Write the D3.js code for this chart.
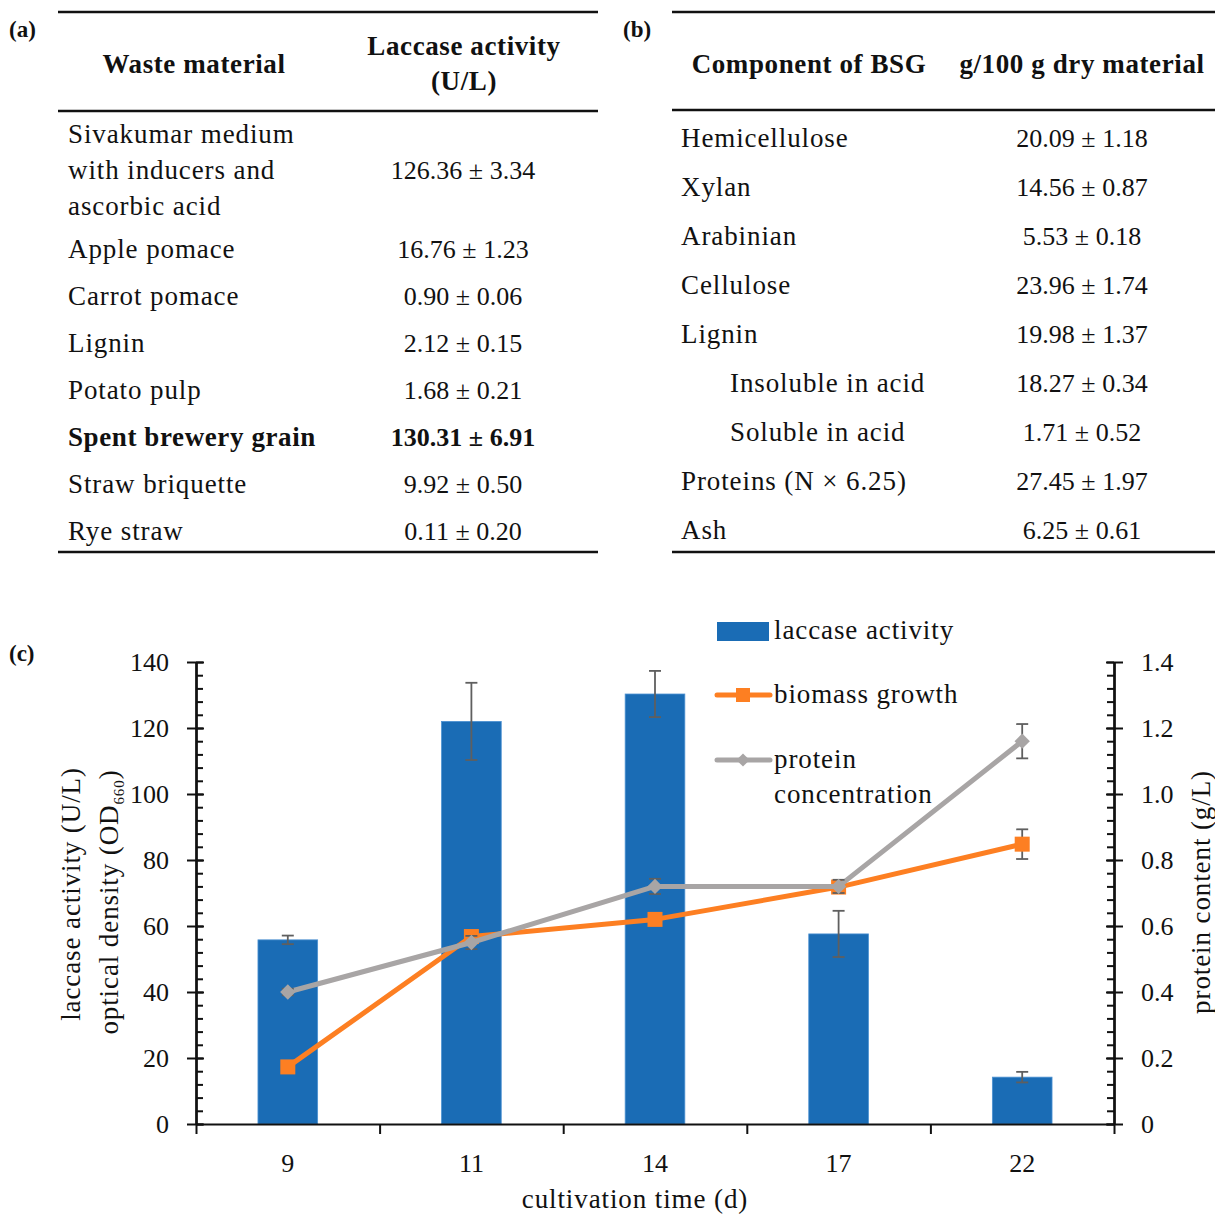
<!DOCTYPE html>
<html>
<head>
<meta charset="utf-8">
<script src="https://cdn.jsdelivr.net/npm/d3@7"></script>
<style>
  body { margin: 0; background: #fff; }
  svg text { font-family: "Liberation Serif", "Times New Roman", serif; fill: #111; }
  svg text.w { font-size: 27px; letter-spacing: 0.9px; }
  svg text.w[font-weight="bold"] { letter-spacing: 0.6px; }
  svg text.n { font-size: 26px; }
</style>
</head>
<body>
<svg id="fig" width="1215" height="1214"></svg>
<script>
// ---- table (a) ----
const wasteMaterials = [
    ['Sivakumar medium', 'with inducers and', 'ascorbic acid'],
    ['Apple pomace'], ['Carrot pomace'], ['Lignin'], ['Potato pulp'],
    ['Spent brewery grain'], ['Straw briquette'], ['Rye straw']
];
const laccaseTable = ['126.36 ± 3.34', '16.76 ± 1.23', '0.90 ± 0.06', '2.12 ± 0.15',
    '1.68 ± 0.21', '130.31 ± 6.91', '9.92 ± 0.50', '0.11 ± 0.20'];
const boldRow = 'Spent brewery grain';

// ---- table (b) ----
const bsgComponents = ['Hemicellulose', 'Xylan', 'Arabinian', 'Cellulose', 'Lignin',
    'Insoluble in acid', 'Soluble in acid', 'Proteins (N × 6.25)', 'Ash'];
const bsgSub = [false, false, false, false, false, true, true, false, false];
const bsgValues = ['20.09 ± 1.18', '14.56 ± 0.87', '5.53 ± 0.18', '23.96 ± 1.74', '19.98 ± 1.37',
    '18.27 ± 0.34', '1.71 ± 0.52', '27.45 ± 1.97', '6.25 ± 0.61'];

// ---- chart (c) ----
const days = ['9', '11', '14', '17', '22'];
const laccase = [55.8, 122, 130.3, 57.6, 14.2];
const laccaseErr = [1.3, 11.7, 7, 7, 1.6];
const biomass = [17.3, 56.8, 62, 71.8, 84.8];
const biomassErr = [0.8, 1, 0.8, 1, 4.5];
const protein = [0.40, 0.55, 0.72, 0.72, 1.16];
const proteinErr = [0.01, 0.02, 0.023, 0.02, 0.052];
const leftTicks = [0, 20, 40, 60, 80, 100, 120, 140];
const rightTicks = [0, 0.2, 0.4, 0.6, 0.8, 1.0, 1.2, 1.4];

const BLUE = '#1a6cb5', ORANGE = '#fd7f22', GRAY = '#a8a5a5', ERR = '#5f5f5f';

const svg = d3.select('#fig');

//----------------------------------------------------------------------------
function rule(x1, x2, y) {
    svg.append('line').attr('x1', x1).attr('x2', x2).attr('y1', y).attr('y2', y)
        .attr('stroke', '#111').attr('stroke-width', 2.5);
}

function label(txt, x, y) {
    svg.append('text').attr('x', x).attr('y', y)
        .attr('font-size', 23).attr('font-weight', 'bold').text(txt);
}

function words(txt, x, y, anchor = 'start', weight = 'normal') {
    return svg.append('text').attr('class', 'w').attr('x', x).attr('y', y)
        .attr('text-anchor', anchor).attr('font-weight', weight).text(txt);
}

function nums(txt, x, y, weight = 'normal') {
    return svg.append('text').attr('class', 'n').attr('x', x).attr('y', y)
        .attr('text-anchor', 'middle').attr('font-weight', weight).text(txt);
}

// ---- draw table (a) ----
label('(a)', 9, 37);
rule(58, 598, 12);
rule(58, 598, 111);
rule(58, 598, 552);

words('Waste material', 194, 73, 'middle', 'bold');
words('Laccase activity', 464, 55, 'middle', 'bold');
words('(U/L)', 464, 90, 'middle', 'bold');

let yy = 143;
wasteMaterials.forEach((lines, i) => {
    const bold = lines[0] === boldRow ? 'bold' : 'normal';
    lines.forEach((l, j) => words(l, 68, yy + j * 36, 'start', bold));
    nums(laccaseTable[i], 463, yy + (lines.length - 1) * 18, bold);
    yy += (lines.length - 1) * 36 + (i === 0 ? 43 : 47);
});

// ---- draw table (b) ----
label('(b)', 623, 37);
rule(672, 1215, 12);
rule(672, 1215, 110);
rule(672, 1215, 552);

words('Component of BSG', 809, 73, 'middle', 'bold');
words('g/100 g dry material', 1082, 73, 'middle', 'bold');

bsgComponents.forEach((c, i) => {
    const y = 147 + i * 49;
    words(c, bsgSub[i] ? 730 : 681, y);
    nums(bsgValues[i], 1082, y);
});

// ---- draw chart (c) ----
label('(c)', 9, 661);

const plotLeft = 196, plotRight = 1114, plotTop = 662, plotBottom = 1124;

const x = d3.scaleBand().domain(days).range([plotLeft, plotRight])
    .paddingInner(0.675).paddingOuter(0.3375);
const xEdge = d3.scaleLinear().domain([0, days.length]).range([plotLeft, plotRight]);
const yL = d3.scaleLinear().domain([0, 140]).range([plotBottom, plotTop]);
const yR = d3.scaleLinear().domain([0, 1.4]).range([plotBottom, plotTop]);
const cx = d => x(d) + x.bandwidth() / 2;

// bars
svg.append('g').selectAll('rect').data(days).join('rect')
    .attr('x', d => x(d))
    .attr('y', (d, i) => yL(laccase[i]))
    .attr('width', x.bandwidth())
    .attr('height', (d, i) => plotBottom - yL(laccase[i]))
    .attr('fill', BLUE)
    .attr('stroke', '#4d92d2').attr('stroke-width', 0.8);

function errorBars(vals, errs, scale) {
    const g = svg.append('g').attr('stroke', ERR).attr('stroke-width', 1.8);
    days.forEach((d, i) => {
        const lo = scale(vals[i] - errs[i]), hi = scale(vals[i] + errs[i]);
        g.append('line').attr('x1', cx(d)).attr('x2', cx(d)).attr('y1', lo).attr('y2', hi);
        g.append('line').attr('x1', cx(d) - 6).attr('x2', cx(d) + 6).attr('y1', lo).attr('y2', lo);
        g.append('line').attr('x1', cx(d) - 6).attr('x2', cx(d) + 6).attr('y1', hi).attr('y2', hi);
    });
}
errorBars(laccase, laccaseErr, yL);

// biomass (left axis)
const lineL = d3.line().x((d, i) => cx(days[i])).y(d => yL(d));
svg.append('path').attr('d', lineL(biomass)).attr('fill', 'none')
    .attr('stroke', ORANGE).attr('stroke-width', 5).attr('stroke-linejoin', 'round');
errorBars(biomass, biomassErr, yL);
svg.append('g').selectAll('rect').data(biomass).join('rect')
    .attr('x', (d, i) => cx(days[i]) - 7.5).attr('y', d => yL(d) - 7.5)
    .attr('width', 15).attr('height', 15).attr('fill', ORANGE);

// protein (right axis)
const lineR = d3.line().x((d, i) => cx(days[i])).y(d => yR(d));
svg.append('path').attr('d', lineR(protein)).attr('fill', 'none')
    .attr('stroke', GRAY).attr('stroke-width', 5).attr('stroke-linejoin', 'round');
errorBars(protein, proteinErr, yR);
const diamond = d3.symbol().type(d3.symbolDiamond2).size(150);
svg.append('g').selectAll('path').data(protein).join('path')
    .attr('transform', (d, i) => `translate(${cx(days[i])},${yR(d)})`)
    .attr('d', diamond).attr('fill', GRAY);

// axes
const minorL = d3.range(0, 140.01, 4);
const minorR = d3.range(0, 1.4001, 0.04);

function styleAxis(g) {
    g.select('.domain').attr('stroke', '#111').attr('stroke-width', 2);
    g.selectAll('.tick line').attr('stroke', '#111').attr('stroke-width', 2);
    g.selectAll('text').attr('font-size', 26).attr('font-family', '"Liberation Serif", serif').attr('fill', '#111');
}

svg.append('g').attr('transform', `translate(${plotLeft},0)`)
    .call(d3.axisRight(yL).tickValues(minorL).tickSize(7).tickFormat('').tickSizeOuter(0))
    .call(styleAxis);
svg.append('g').attr('transform', `translate(${plotLeft},0)`)
    .call(d3.axisLeft(yL).tickValues(leftTicks).tickSize(9).tickPadding(18).tickSizeOuter(0))
    .call(styleAxis);
svg.append('g').attr('transform', `translate(${plotLeft},0)`)
    .call(d3.axisRight(yL).tickValues(leftTicks).tickSize(8).tickFormat('').tickSizeOuter(0))
    .call(styleAxis);

svg.append('g').attr('transform', `translate(${plotRight},0)`)
    .call(d3.axisLeft(yR).tickValues(minorR).tickSize(7).tickFormat('').tickSizeOuter(0))
    .call(styleAxis);
svg.append('g').attr('transform', `translate(${plotRight},0)`)
    .call(d3.axisRight(yR).tickValues(rightTicks).tickSize(9).tickPadding(18).tickSizeOuter(0)
        .tickFormat(d => d === 0 ? '0' : d3.format('.1f')(d)))
    .call(styleAxis);
svg.append('g').attr('transform', `translate(${plotRight},0)`)
    .call(d3.axisLeft(yR).tickValues(rightTicks).tickSize(8).tickFormat('').tickSizeOuter(0))
    .call(styleAxis);

svg.append('g').attr('transform', `translate(0,${plotBottom})`)
    .call(d3.axisBottom(xEdge).tickValues(d3.range(days.length + 1)).tickSize(10).tickFormat('').tickSizeOuter(0))
    .call(styleAxis);
svg.append('g').attr('transform', `translate(0,${plotBottom})`)
    .call(d3.axisBottom(x).tickSize(0).tickPadding(30))
    .call(styleAxis)
    .call(g => g.select('.domain').remove());

// axis titles
words('cultivation time (d)', 635, 1208, 'middle');
words('laccase activity (U/L)', 0, 0, 'middle').attr('transform', 'translate(80,894) rotate(-90)');
const od = words('optical density (OD', 0, 0, 'middle').attr('transform', 'translate(118,902) rotate(-90)');
od.append('tspan').attr('font-size', 15).attr('dy', 6).text('660');
od.append('tspan').attr('dy', -6).text(')');
words('protein content (g/L)', 0, 0, 'middle').attr('transform', 'translate(1210,892) rotate(-90)');

// legend
const lg = svg.append('g');
lg.append('rect').attr('x', 717).attr('y', 622).attr('width', 52).attr('height', 19).attr('fill', BLUE);
lg.append('line').attr('x1', 717).attr('x2', 770).attr('y1', 695).attr('y2', 695)
    .attr('stroke', ORANGE).attr('stroke-width', 5).attr('stroke-linecap', 'round');
lg.append('rect').attr('x', 736).attr('y', 688).attr('width', 14).attr('height', 14).attr('fill', ORANGE);
lg.append('line').attr('x1', 717).attr('x2', 770).attr('y1', 760).attr('y2', 760)
    .attr('stroke', GRAY).attr('stroke-width', 5).attr('stroke-linecap', 'round');
lg.append('path').attr('transform', 'translate(743,760)')
    .attr('d', d3.symbol().type(d3.symbolDiamond2).size(110)).attr('fill', GRAY);
words('laccase activity', 774, 639);
words('biomass growth', 774, 703);
words('protein', 774, 768);
words('concentration', 774, 803);
</script>
</body>
</html>
